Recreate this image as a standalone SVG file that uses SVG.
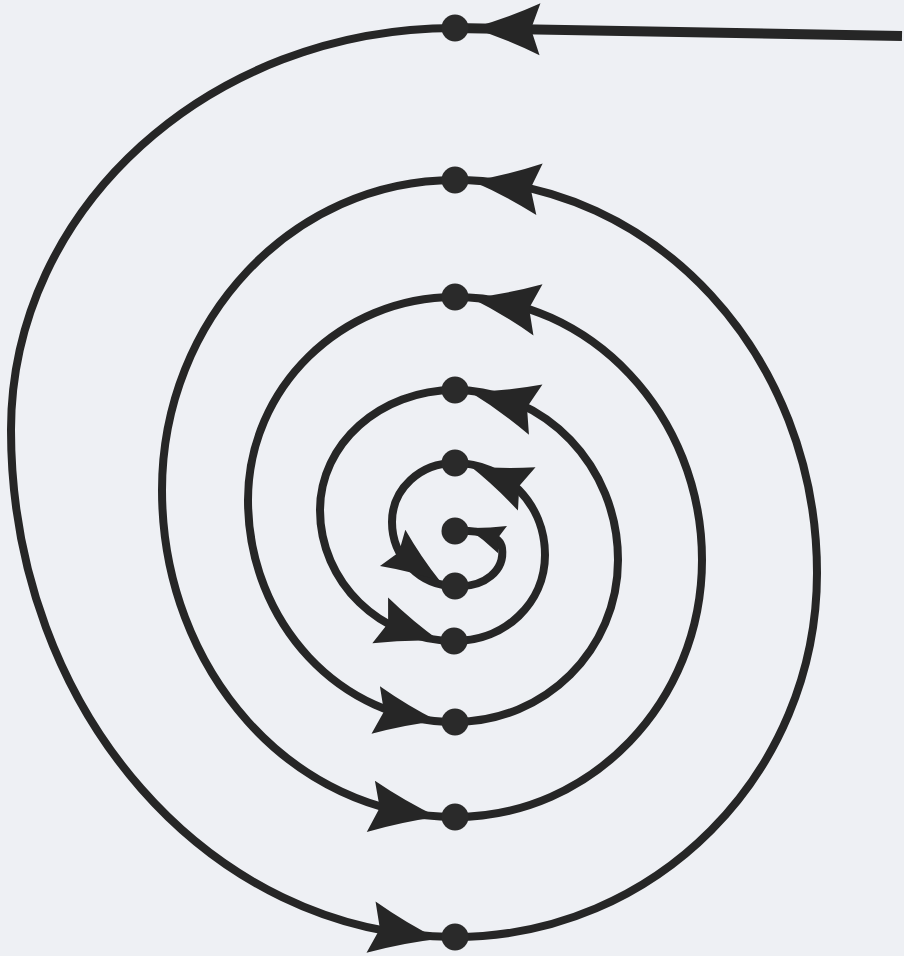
<svg xmlns="http://www.w3.org/2000/svg" xmlns:xlink="http://www.w3.org/1999/xlink" width="904" height="956" viewBox="0 0 904 956">
<style>
.arc{fill:none;stroke:#262626;stroke-width:8;stroke-linecap:round}
.lead{fill:none;stroke:#262626;stroke-width:10}
.dot{fill:#2a2a2a}
.head{fill:#262626}
</style>
<defs>
<path id="ah" d="M0,0 Q-34,-10 -68,-26 L-59,0 L-68,26 Q-34,10 0,0 Z"/>
</defs>
<rect width="904" height="956" fill="#eef0f4"/>
<g id="connectors">
<path class="lead" d="M455,28 L902,36"/>
<path class="arc" d="M455,28 C210,28 11,208 11,430 C11,710 210,937 455,937"/>
<path class="arc" d="M455,937 C655,937 817,774 817,573 C817,356 655,180 455,180"/>
<path class="arc" d="M455,180 C293,180 162,319 162,490 C162,671 293,817 455,817"/>
<path class="arc" d="M455,817 C591,817 702,702 702,560 C702,415 591,297 455,297"/>
<path class="arc" d="M455,297 C341,297 248,388 248,500 C248,623 341,722 455,722"/>
<path class="arc" d="M455,722 C545,722 618,650 618,560 C618,466 545,390 455,390"/>
<path class="arc" d="M455,390 C380,390 320,444 320,510 C320,582 380,641 455,641"/>
<path class="arc" d="M455,641 C505,641 545,603 545,555 C545,504 505,463 455,463"/>
<path class="arc" d="M455,463 C420,463 392,489 392,522 C392,557 420,586 455,586"/>
<path class="arc" d="M455,586 C485,588 505,570 502,548 C500,535 480,530 455,531"/>
<g class="head">
<use xlink:href="#ah" transform="translate(472,28) rotate(181)"/>
<use xlink:href="#ah" transform="translate(472,181) rotate(187)"/>
<use xlink:href="#ah" transform="translate(471,298) rotate(190)"/>
<use xlink:href="#ah" transform="translate(470,392) rotate(195)"/>
<use xlink:href="#ah" transform="translate(470,466) rotate(202) scale(0.9)"/>
<use xlink:href="#ah" transform="translate(467,528) rotate(198) scale(0.55)"/>
<use xlink:href="#ah" transform="translate(440,581) rotate(35) scale(0.85)"/>
<use xlink:href="#ah" transform="translate(440,641) rotate(19) scale(0.93)"/>
<use xlink:href="#ah" transform="translate(438,721) rotate(10) scale(0.93)"/>
<use xlink:href="#ah" transform="translate(438,817) rotate(9)"/>
<use xlink:href="#ah" transform="translate(438,939) rotate(10)"/>
</g>
</g>
<g id="n1"><circle class="dot" cx="455" cy="28" r="13.5"/></g>
<g id="n2"><circle class="dot" cx="455" cy="937" r="13.5"/></g>
<g id="n3"><circle class="dot" cx="455" cy="180" r="13.5"/></g>
<g id="n4"><circle class="dot" cx="455" cy="817" r="13.5"/></g>
<g id="n5"><circle class="dot" cx="455" cy="297" r="13.5"/></g>
<g id="n6"><circle class="dot" cx="455" cy="722" r="13.5"/></g>
<g id="n7"><circle class="dot" cx="455" cy="390" r="13.5"/></g>
<g id="n8"><circle class="dot" cx="454" cy="641" r="13.5"/></g>
<g id="n9"><circle class="dot" cx="455" cy="463" r="13.5"/></g>
<g id="n10"><circle class="dot" cx="455" cy="586" r="13.5"/></g>
<g id="n11"><circle class="dot" cx="455" cy="531" r="13.5"/></g>
</svg>
